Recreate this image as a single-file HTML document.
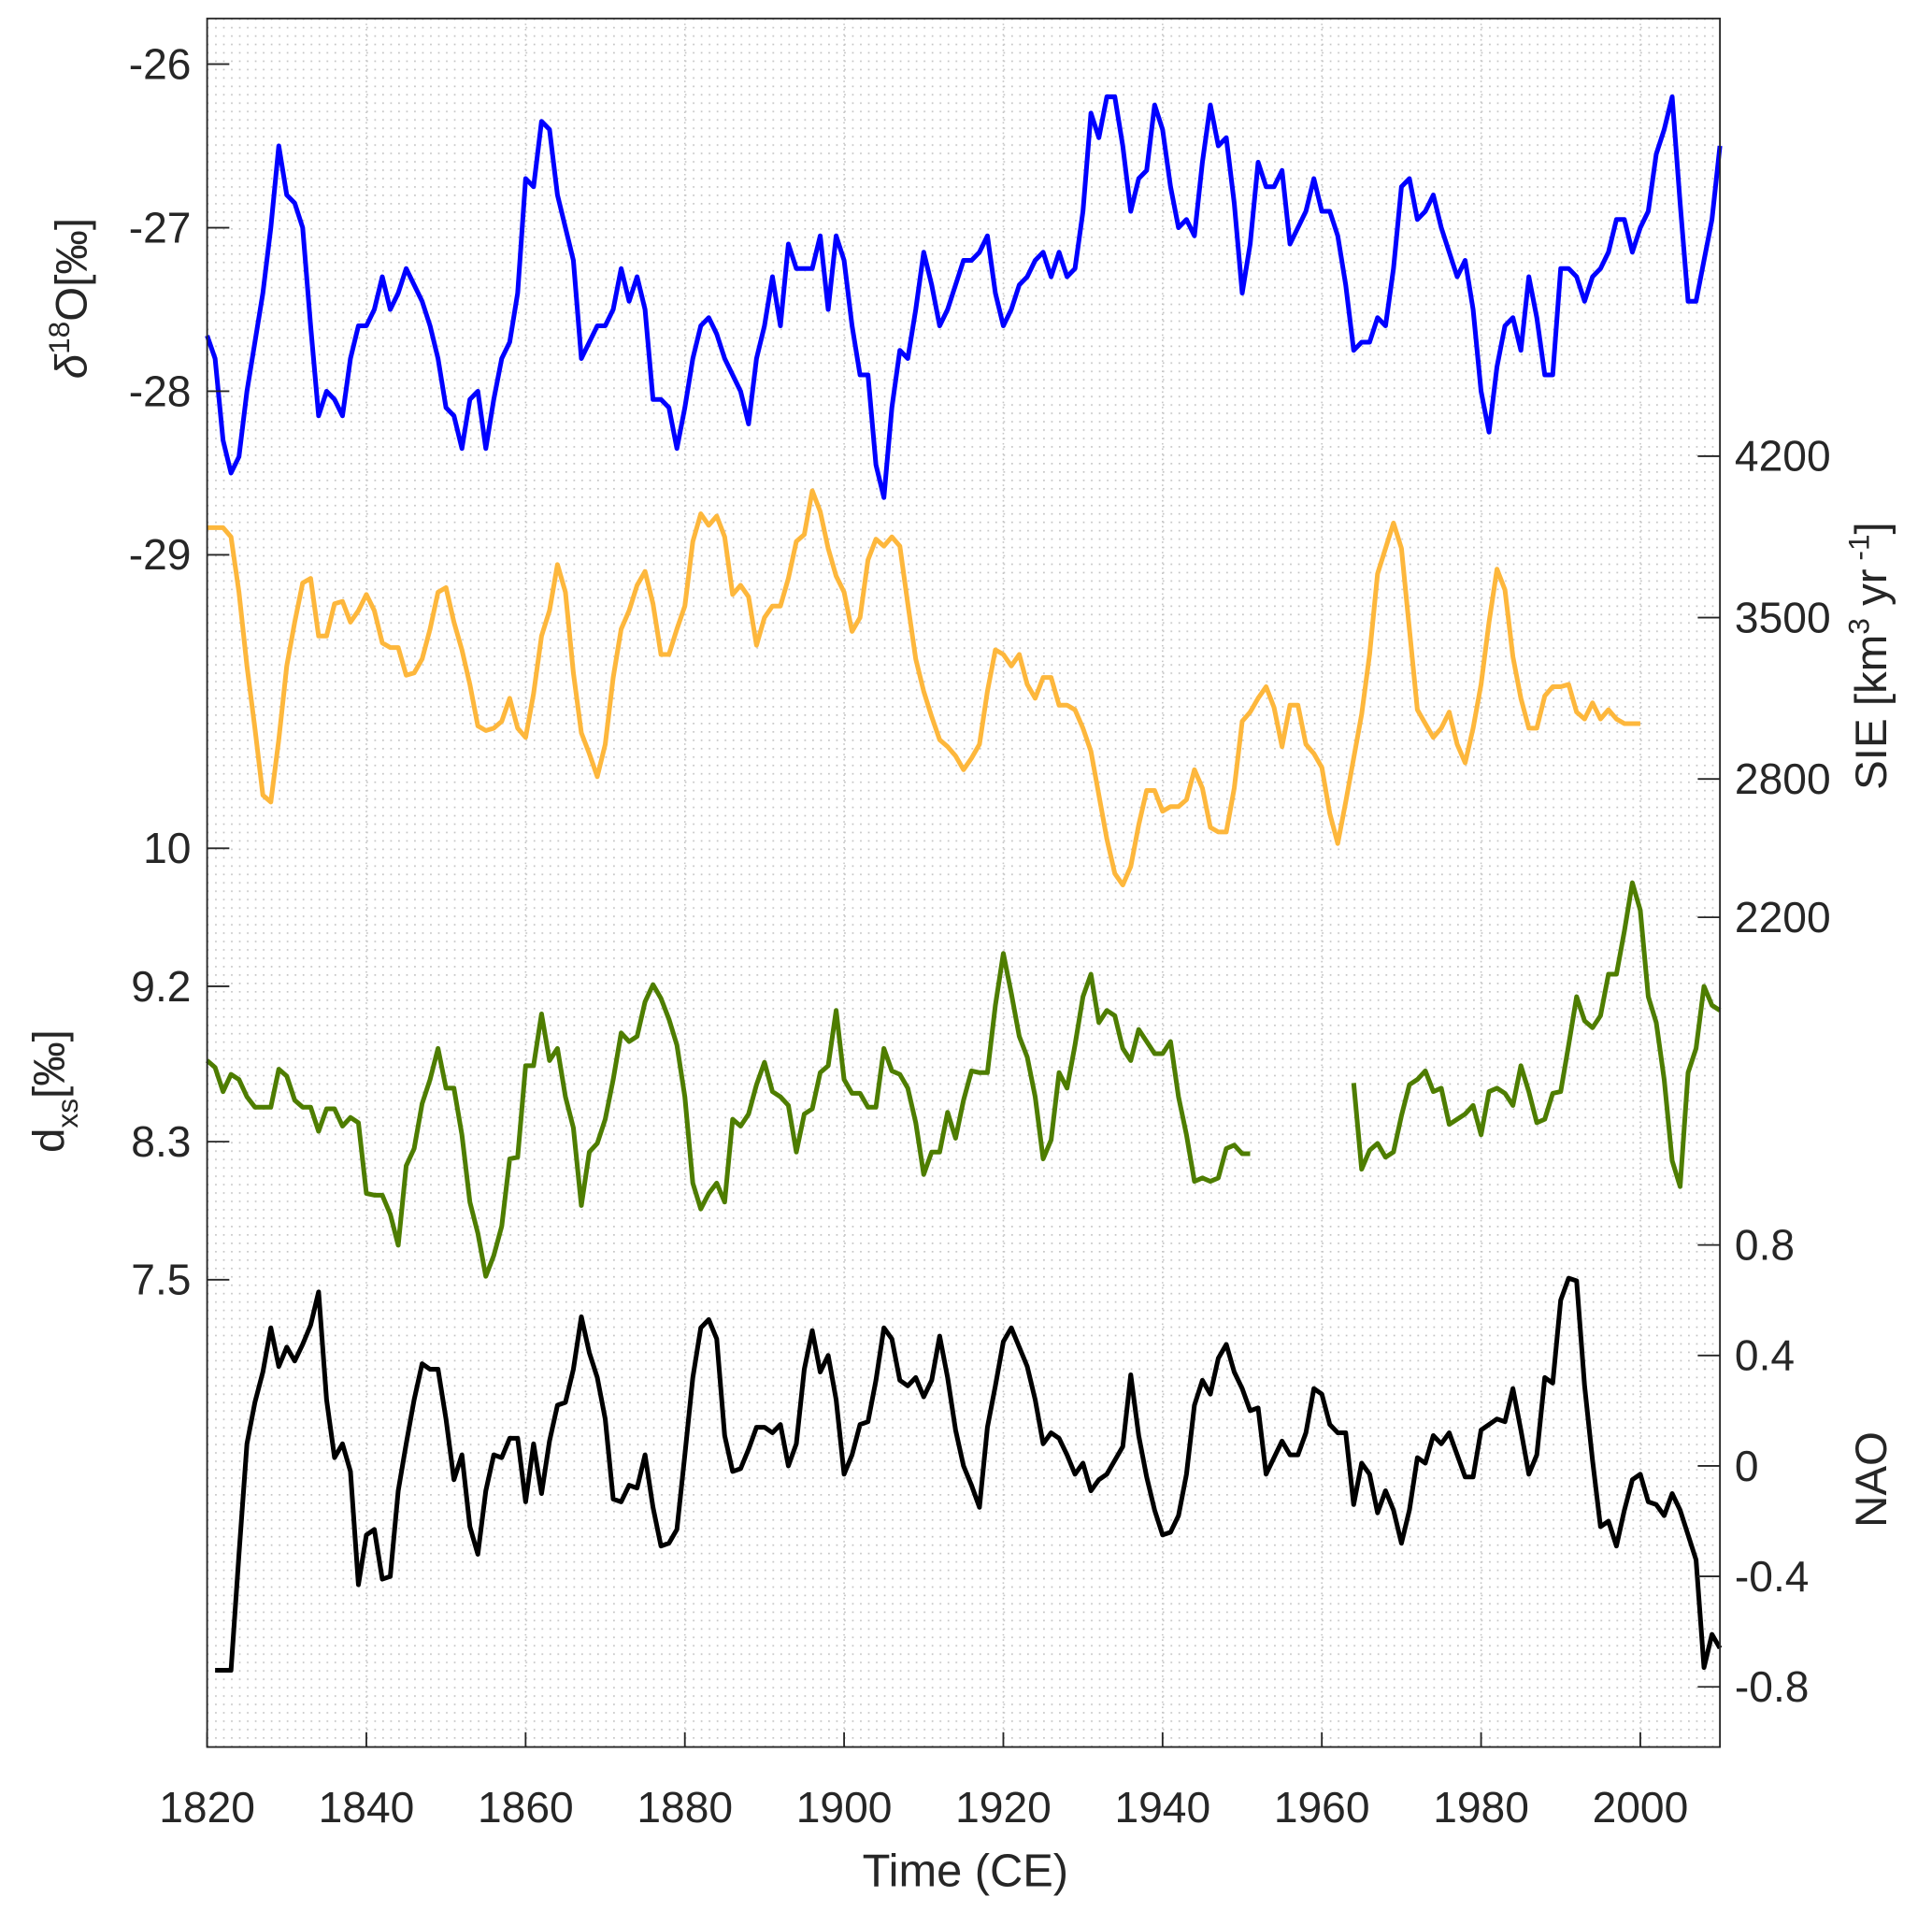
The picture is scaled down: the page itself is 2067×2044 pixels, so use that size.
<!DOCTYPE html>
<html><head><meta charset="utf-8">
<style>
html,body{margin:0;padding:0;background:#fff;}
svg{display:block;font-family:"Liberation Sans",Arial,sans-serif;}
</style></head>
<body>
<svg id="chart" width="2067" height="2044" viewBox="0 0 1567 1550" preserveAspectRatio="none" xmlns="http://www.w3.org/2000/svg">
<defs>
<pattern id="gridpat" x="168" y="15" width="6.458" height="6.8" patternUnits="userSpaceOnUse">
<rect x="0" y="0" width="1.3" height="1.3" fill="#c4c4c4"/>
</pattern>
</defs>
<rect x="168" y="15" width="1227" height="1402" fill="#fff"/>
<rect x="168" y="15" width="1227" height="1402" fill="url(#gridpat)"/>
<g id="grid"></g>
<g id="series"></g>
<rect x="168" y="15" width="1227" height="1402" fill="none" stroke="#262626" stroke-width="1.4"/>
<g id="axes" fill="#262626" font-size="35"></g>
<text x="783" y="1530" text-anchor="middle" font-size="37" fill="#262626">Time (CE)</text>
<text transform="translate(70,242) rotate(-90)" text-anchor="middle" font-size="36" fill="#262626"><tspan font-style="italic">δ</tspan><tspan dy="-14" font-size="24">18</tspan><tspan dy="14">O[‰]</tspan></text>
<text transform="translate(52,885) rotate(-90)" text-anchor="middle" font-size="36" fill="#262626">d<tspan dy="11" font-size="24">xs</tspan><tspan dy="-11">[‰]</tspan></text>
<text transform="translate(1530,532) rotate(-90)" text-anchor="middle" font-size="36" fill="#262626">SIE [km<tspan dy="-14" font-size="24">3</tspan><tspan dy="14"> yr</tspan><tspan dy="-14" font-size="24"> -1</tspan><tspan dy="14">]</tspan></text>
<text transform="translate(1530,1200) rotate(-90)" text-anchor="middle" font-size="36" fill="#262626">NAO</text>
</svg>
<script>
const years = [];
for (let y = 1820; y <= 2010; y++) years.push(y);

const d18o = [-27.66,-27.8,-28.3,-28.5,-28.4,-28.0,-27.7,-27.4,-27.0,-26.5,-26.8,-26.85,-27.0,-27.6,-28.15,-28.0,-28.05,-28.15,-27.8,-27.6,
-27.6,-27.5,-27.3,-27.5,-27.4,-27.25,-27.35,-27.45,-27.6,-27.8,-28.1,-28.15,-28.35,-28.05,-28.0,-28.35,-28.05,-27.8,-27.7,-27.4,
-26.7,-26.75,-26.35,-26.4,-26.8,-27.0,-27.2,-27.8,-27.7,-27.6,-27.6,-27.5,-27.25,-27.45,-27.3,-27.5,-28.05,-28.05,-28.1,-28.35,
-28.1,-27.8,-27.6,-27.55,-27.65,-27.8,-27.9,-28.0,-28.2,-27.8,-27.6,-27.3,-27.6,-27.1,-27.25,-27.25,-27.25,-27.05,-27.5,-27.05,
-27.2,-27.6,-27.9,-27.9,-28.45,-28.65,-28.1,-27.75,-27.8,-27.5,-27.15,-27.35,-27.6,-27.5,-27.35,-27.2,-27.2,-27.15,-27.05,-27.4,
-27.6,-27.5,-27.35,-27.3,-27.2,-27.15,-27.3,-27.15,-27.3,-27.25,-26.9,-26.3,-26.45,-26.2,-26.2,-26.5,-26.9,-26.7,-26.65,-26.25,
-26.4,-26.75,-27.0,-26.95,-27.05,-26.6,-26.25,-26.5,-26.45,-26.85,-27.4,-27.1,-26.6,-26.75,-26.75,-26.65,-27.1,-27.0,-26.9,-26.7,
-26.9,-26.9,-27.05,-27.35,-27.75,-27.7,-27.7,-27.55,-27.6,-27.25,-26.75,-26.7,-26.95,-26.9,-26.8,-27.0,-27.15,-27.3,-27.2,-27.5,
-28.0,-28.25,-27.85,-27.6,-27.55,-27.75,-27.3,-27.55,-27.9,-27.9,-27.25,-27.25,-27.3,-27.45,-27.3,-27.25,-27.15,-26.95,-26.95,-27.15,
-27.0,-26.9,-26.55,-26.4,-26.2,-26.85,-27.45,-27.45,-27.2,-26.95,-26.5];

const sie = [3890,3890,3890,3850,3610,3290,3020,2730,2700,2970,3290,3480,3650,3670,3420,3420,3560,3570,3480,3530,
3600,3530,3390,3370,3370,3250,3260,3320,3450,3610,3630,3480,3360,3210,3030,3010,3020,3050,3150,3020,
2980,3170,3420,3530,3730,3610,3260,3000,2910,2810,2950,3240,3450,3530,3640,3700,3560,3340,3340,3450,
3550,3830,3950,3900,3940,3850,3600,3640,3590,3380,3500,3550,3550,3670,3830,3860,4050,3960,3800,3680,
3610,3440,3500,3750,3840,3810,3850,3810,3560,3320,3180,3070,2970,2940,2900,2840,2890,2950,3180,3360,
3340,3290,3340,3210,3150,3240,3240,3120,3120,3100,3020,2920,2730,2540,2390,2340,2420,2600,2750,2750,
2660,2680,2680,2710,2840,2760,2590,2570,2570,2760,3050,3090,3150,3200,3110,2940,3120,3120,2950,2910,
2850,2650,2520,2700,2890,3080,3340,3690,3800,3910,3800,3450,3100,3040,2980,3020,3090,2950,2870,3020,
3210,3480,3710,3620,3330,3150,3020,3020,3160,3200,3200,3210,3090,3060,3130,3060,3100,3060,3040,3040,
3040,null,null,null,null,null,null,null,null,null,null];

const dxs = [8.77,8.73,8.59,8.69,8.66,8.56,8.5,8.5,8.5,8.72,8.68,8.54,8.5,8.5,8.36,8.49,8.49,8.39,8.44,8.41,
8.0,7.99,7.99,7.88,7.7,8.16,8.26,8.52,8.66,8.84,8.61,8.61,8.34,7.95,7.77,7.52,7.64,7.81,8.2,8.21,
8.74,8.74,9.04,8.77,8.84,8.56,8.38,7.93,8.24,8.29,8.43,8.66,8.93,8.88,8.91,9.11,9.21,9.13,9.01,8.86,
8.56,8.06,7.91,8.0,8.06,7.95,8.43,8.39,8.46,8.63,8.76,8.59,8.56,8.51,8.24,8.46,8.49,8.7,8.74,9.06,
8.66,8.58,8.58,8.5,8.5,8.84,8.71,8.69,8.61,8.41,8.11,8.24,8.24,8.47,8.32,8.54,8.71,8.7,8.7,9.09,
9.39,9.16,8.91,8.79,8.56,8.2,8.31,8.7,8.61,8.86,9.14,9.27,8.99,9.06,9.03,8.84,8.77,8.95,8.88,8.81,
8.81,8.88,8.56,8.34,8.07,8.09,8.07,8.09,8.26,8.28,8.23,8.23,null,null,null,null,null,null,null,null,
null,null,null,null,8.64,8.14,8.25,8.29,8.21,8.24,8.45,8.63,8.66,8.71,8.59,8.61,8.4,8.43,8.46,8.51,
8.34,8.59,8.61,8.58,8.51,8.74,8.59,8.41,8.43,8.58,8.59,8.86,9.14,9.0,8.96,9.03,9.27,9.27,9.52,9.8,
9.64,9.14,8.99,8.66,8.19,8.04,8.7,8.84,9.2,9.09,9.06];

const nao = [null,-0.74,-0.74,-0.74,-0.32,0.08,0.23,0.34,0.5,0.36,0.43,0.38,0.44,0.51,0.63,0.24,0.03,0.08,-0.02,-0.43,
-0.25,-0.23,-0.41,-0.4,-0.09,0.08,0.24,0.37,0.35,0.35,0.17,-0.05,0.04,-0.22,-0.32,-0.09,0.04,0.03,0.1,0.1,
-0.13,0.08,-0.1,0.09,0.22,0.23,0.35,0.54,0.41,0.32,0.17,-0.12,-0.13,-0.07,-0.08,0.04,-0.15,-0.29,-0.28,-0.23,
0.04,0.32,0.5,0.53,0.46,0.11,-0.02,-0.01,0.06,0.14,0.14,0.12,0.15,0.0,0.08,0.35,0.49,0.34,0.4,0.24,
-0.03,0.04,0.15,0.16,0.31,0.5,0.46,0.31,0.29,0.32,0.25,0.31,0.47,0.32,0.13,0.0,-0.07,-0.15,0.14,0.29,
0.45,0.5,0.43,0.36,0.24,0.08,0.12,0.1,0.04,-0.03,0.01,-0.09,-0.05,-0.03,0.02,0.07,0.33,0.11,-0.04,-0.16,
-0.25,-0.24,-0.18,-0.03,0.22,0.31,0.26,0.39,0.44,0.34,0.28,0.2,0.21,-0.03,0.03,0.09,0.04,0.04,0.12,0.28,
0.26,0.15,0.12,0.12,-0.14,0.01,-0.03,-0.17,-0.09,-0.16,-0.28,-0.16,0.03,0.01,0.11,0.08,0.12,0.04,-0.04,-0.04,
0.13,0.15,0.17,0.16,0.28,0.13,-0.03,0.04,0.32,0.3,0.6,0.68,0.67,0.29,0.02,-0.22,-0.2,-0.29,-0.16,-0.05,
-0.03,-0.13,-0.14,-0.18,-0.1,-0.16,-0.25,-0.34,-0.73,-0.61,-0.66];

const xTicks = [1820,1840,1860,1880,1900,1920,1940,1960,1980,2000];
const d18oTicks = [-26,-27,-28,-29];
const dxsTicks = [10,9.2,8.3,7.5];
const sieTicks = [4200,3500,2800,2200];
const naoTicks = [0.8,0.4,0,-0.4,-0.8];

const NS = 'http://www.w3.org/2000/svg';
const xS = y => 168 + (y - 1820) * (1227 / 190);
const yD18 = v => 52 + (-26 - v) * 132.67;
const yDxs = v => 688 + (10 - v) * 140;
const ySie = v => 370 + (4200 - v) * 0.187;
const yNao = v => 1189 - v * 224;

function mk(tag, attrs, parent) {
  const el = document.createElementNS(NS, tag);
  for (const k in attrs) el.setAttribute(k, attrs[k]);
  parent.appendChild(el);
  return el;
}

const grid = document.getElementById('grid');
xTicks.forEach(t => {
  const l = mk('line', {x1: xS(t), x2: xS(t), y1: 15, y2: 1417, stroke: '#c4c4c4', 'stroke-width': 1.2, 'stroke-dasharray': '1.2 3'}, grid);
  
  
});

const series = document.getElementById('series');
function drawLine(vals, yf, color, name) {
  let d = '', pen = false;
  vals.forEach((v, i) => {
    if (v === null) { pen = false; return; }
    d += (pen ? 'L' : 'M') + xS(years[i]).toFixed(2) + ' ' + yf(v).toFixed(2) + ' ';
    pen = true;
  });
  const p = mk('path', {d: d, fill: 'none', stroke: color, 'stroke-width': 3.8, 'stroke-linejoin': 'round'}, series);
  
  
}
drawLine(d18o, yD18, '#0000ff', 'd18o-line');
drawLine(sie, ySie, '#fdb73c', 'sie-line');
drawLine(dxs, yDxs, '#4e7d00', 'dxs-line');
drawLine(nao, yNao, '#000000', 'nao-line');

const axes = document.getElementById('axes');
xTicks.forEach(t => {
  const l = mk('line', {x1: xS(t), x2: xS(t), y1: 1417, y2: 1405, stroke: '#262626', 'stroke-width': 1.4}, axes);
  
  
  const tx = mk('text', {x: xS(t), y: 1478, 'text-anchor': 'middle'}, axes);
  tx.textContent = t;
  
  
});
function leftTicks(ticks, yf, name) {
  ticks.forEach(t => {
    const l = mk('line', {x1: 168, x2: 186, y1: yf(t), y2: yf(t), stroke: '#262626', 'stroke-width': 1.4}, axes);
    
    
    const tx = mk('text', {x: 155, y: yf(t) + 12, 'text-anchor': 'end'}, axes);
    tx.textContent = String(t);
    
    
  });
}
function rightTicks(ticks, yf, name) {
  ticks.forEach(t => {
    const l = mk('line', {x1: 1377, x2: 1395, y1: yf(t), y2: yf(t), stroke: '#262626', 'stroke-width': 1.4}, axes);
    
    
    const tx = mk('text', {x: 1407, y: yf(t) + 12, 'text-anchor': 'start'}, axes);
    tx.textContent = String(t);
    
    
  });
}
leftTicks(d18oTicks, yD18, 'd18o');
leftTicks(dxsTicks, yDxs, 'dxs');
rightTicks(sieTicks, ySie, 'sie');
rightTicks(naoTicks, yNao, 'nao');
</script>
</body></html>
